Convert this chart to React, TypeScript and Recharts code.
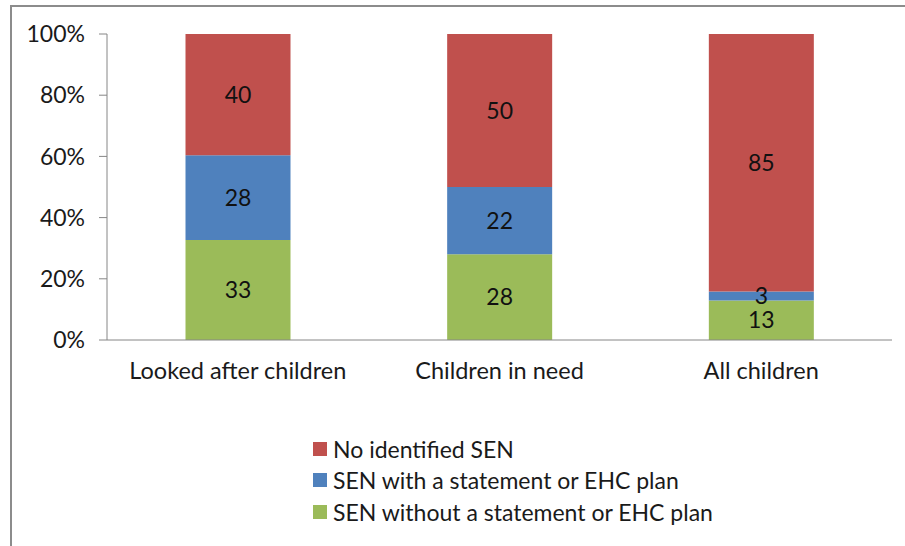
import { BarChart, Bar, XAxis, YAxis, Legend, LabelList } from 'recharts';

// Children by SEN status, per cent (stacked to 100%)
const CATEGORIES = ['Looked after children', 'Children in need', 'All children'];
const SEN_WITHOUT_PLAN = [33, 28, 13];
const SEN_WITH_PLAN = [28, 22, 3];
const NO_SEN = [40, 50, 85];
const Y_TICKS = [0, 0.2, 0.4, 0.6, 0.8, 1];
const EDGE_TICKS = [0, 1, 2, 3];

const SERIES = [
  { key: 'without', name: 'SEN without a statement or EHC plan', color: '#9BBB59' },
  { key: 'with', name: 'SEN with a statement or EHC plan', color: '#4F81BD' },
  { key: 'none', name: 'No identified SEN', color: '#C0504D' },
];
const LEGEND_ORDER = ['none', 'with', 'without'];

const data = CATEGORIES.map((cat, i) => ({
  cat,
  idx: i + 0.5,
  without: SEN_WITHOUT_PLAN[i],
  with: SEN_WITH_PLAN[i],
  none: NO_SEN[i],
}));

const FONT = 'Lato, "Open Sans", sans-serif';
const AXIS = '#868686';
const TXT = { fontSize: 23, fill: '#1a1a1a', fontFamily: FONT };

function SenLegend(props: any) {
  const items = [...(props.payload ?? [])].sort(
    (a: any, b: any) => LEGEND_ORDER.indexOf(a.dataKey) - LEGEND_ORDER.indexOf(b.dataKey),
  );
  return (
    <div style={{ fontFamily: FONT, fontSize: 23, color: '#1a1a1a' }}>
      {items.map((it: any) => (
        <div key={it.dataKey} style={{ display: 'flex', alignItems: 'center', height: 31.5 }}>
          <span style={{ width: 14, height: 14, background: it.color, marginRight: 6, display: 'inline-block' }} />
          <span>{it.value}</span>
        </div>
      ))}
    </div>
  );
}

export default function App() {
  return (
    <div style={{ position: 'absolute', left: 0, top: 0, width: 905, height: 546, background: '#fff', overflow: 'hidden' }}>
      <div
        style={{
          position: 'absolute',
          left: 10,
          top: 5,
          width: 1000,
          height: 1000,
          borderTop: '2px solid #8c8c8c',
          borderLeft: '2px solid #8c8c8c',
        }}
      />
      <BarChart
        width={905}
        height={546}
        data={data}
        stackOffset="expand"
        barCategoryGap="30%"
        margin={{ top: 34, right: 13, left: 47, bottom: 166 }}
        style={{ position: 'absolute', left: 0, top: 0 }}
      >
        <XAxis
          xAxisId="edges"
          type="number"
          dataKey="idx"
          domain={[0, 3]}
          ticks={EDGE_TICKS}
          height={0}
          axisLine={false}
          tickSize={8}
          tickLine={{ stroke: AXIS }}
          tick={() => <g />}
        />
        <XAxis
          dataKey="cat"
          height={40}
          tickLine={false}
          axisLine={{ stroke: AXIS }}
          tickSize={8}
          tickMargin={14}
          tick={{ ...TXT, fontSize: 23.5 }}
        />
        <YAxis
          width={60}
          domain={[0, 1]}
          ticks={Y_TICKS}
          tickFormatter={(v) => `${Math.round(Number(v) * 100)}%`}
          axisLine={{ stroke: AXIS }}
          tickLine={{ stroke: AXIS }}
          tickSize={8}
          tickMargin={14}
          tick={TXT}
        />
        <Legend
          layout="vertical"
          align="center"
          verticalAlign="middle"
          wrapperStyle={{ left: 313, top: 433, width: 'auto' }}
          content={SenLegend}
        />
        {SERIES.map((s) => (
          <Bar key={s.key} dataKey={s.key} name={s.name} stackId="a" fill={s.color} isAnimationActive={false}>
            <LabelList dataKey={s.key} position="center" style={{ ...TXT, fill: '#111' }} />
          </Bar>
        ))}
      </BarChart>
    </div>
  );
}
